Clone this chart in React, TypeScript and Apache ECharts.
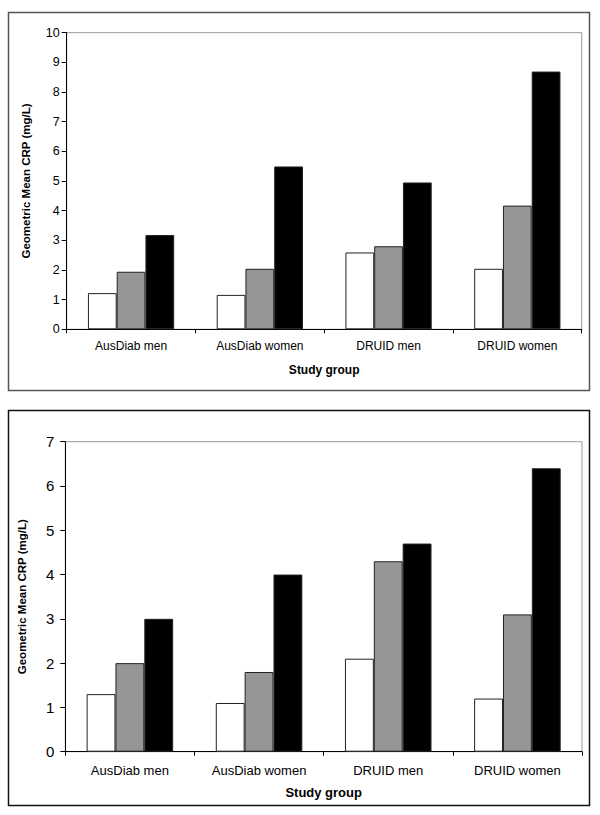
import React, { useEffect, useRef } from "react";
import * as echarts from "echarts";

const categories = ["AusDiab men", "AusDiab women", "DRUID men", "DRUID women"];
const topWhite = [1.22, 1.16, 2.59, 2.04];
const topGray = [1.94, 2.04, 2.8, 4.17];
const topBlack = [3.18, 5.49, 4.95, 8.69];
const botWhite = [1.3, 1.1, 2.1, 1.2];
const botGray = [2.0, 1.8, 4.3, 3.1];
const botBlack = [3.0, 4.0, 4.7, 6.4];
const yName = "Geometric Mean CRP (mg/L)";
const xName = "Study group";

const FONT = "Liberation Sans, Arial, sans-serif";

export default function App() {
  const ref = useRef<HTMLDivElement>(null);
  useEffect(() => {
    const chart = echarts.init(ref.current!, null, { renderer: "svg" });
    const mkX = (gi: number, fs: number, margin: number, gap: number) => ({
      type: "category",
      gridIndex: gi,
      data: categories,
      boundaryGap: true,
      axisLine: { lineStyle: { color: "#000", width: 1 } },
      axisTick: { show: true, length: 4, lineStyle: { color: "#000" } },
      axisLabel: { color: "#000", fontSize: fs, fontFamily: FONT, margin },
      name: xName,
      nameLocation: "middle",
      nameGap: gap,
      nameTextStyle: { color: "#000", fontSize: fs, fontWeight: "bold", fontFamily: FONT },
    });
    const mkY = (gi: number, max: number, fs: number, margin: number, gap: number, nfs: number) => ({
      type: "value",
      gridIndex: gi,
      min: 0,
      max,
      interval: 1,
      splitLine: { show: false },
      axisLine: { show: true, lineStyle: { color: "#000", width: 1 } },
      axisTick: { show: true, length: 5, lineStyle: { color: "#000" } },
      axisLabel: { color: "#000", fontSize: fs, fontFamily: FONT, margin },
      name: yName,
      nameLocation: "middle",
      nameGap: gap,
      nameRotate: 90,
      nameTextStyle: { color: "#000", fontSize: nfs, fontWeight: "bold", fontFamily: FONT },
    });
    const mkBar = (data: number[], color: string, gi: number) => ({
      type: "bar",
      xAxisIndex: gi,
      yAxisIndex: gi,
      data,
      barGap: "0%",
      barCategoryGap: "33%",
      itemStyle: { color, borderColor: "#222", borderWidth: 1 },
    });
    chart.setOption({
      animation: false,
      backgroundColor: "#fff",
      grid: [
        { left: 66.7, top: 32.7, width: 515, height: 296.6, show: true, borderColor: "#999", borderWidth: 1, backgroundColor: "#fff" },
        { left: 65.3, top: 441.7, width: 516.7, height: 310, show: true, borderColor: "#999", borderWidth: 1, backgroundColor: "#fff" },
      ],
      xAxis: [mkX(0, 12, 11, 35), mkX(1, 13, 12, 34)],
      yAxis: [mkY(0, 10, 12.5, 7, 35, 11.5), mkY(1, 7, 15, 11, 37, 11.5)],
      series: [
        mkBar(topWhite, "#ffffff", 0),
        mkBar(topGray, "#969696", 0),
        mkBar(topBlack, "#000000", 0),
        mkBar(botWhite, "#ffffff", 1),
        mkBar(botGray, "#969696", 1),
        mkBar(botBlack, "#000000", 1),
      ],
      graphic: [
        { type: "rect", shape: { x: 8.5, y: 12.5, width: 581, height: 378 }, style: { fill: "none", stroke: "#555", lineWidth: 1.5 }, z: 100 },
        { type: "rect", shape: { x: 8.5, y: 410.5, width: 581, height: 395 }, style: { fill: "none", stroke: "#111", lineWidth: 1.5 }, z: 100 },
      ],
    });
    return () => chart.dispose();
  }, []);
  return (
    <div
      ref={ref}
      style={{ position: "absolute", left: 0, top: 0, width: 600, height: 815 }}
    />
  );
}
